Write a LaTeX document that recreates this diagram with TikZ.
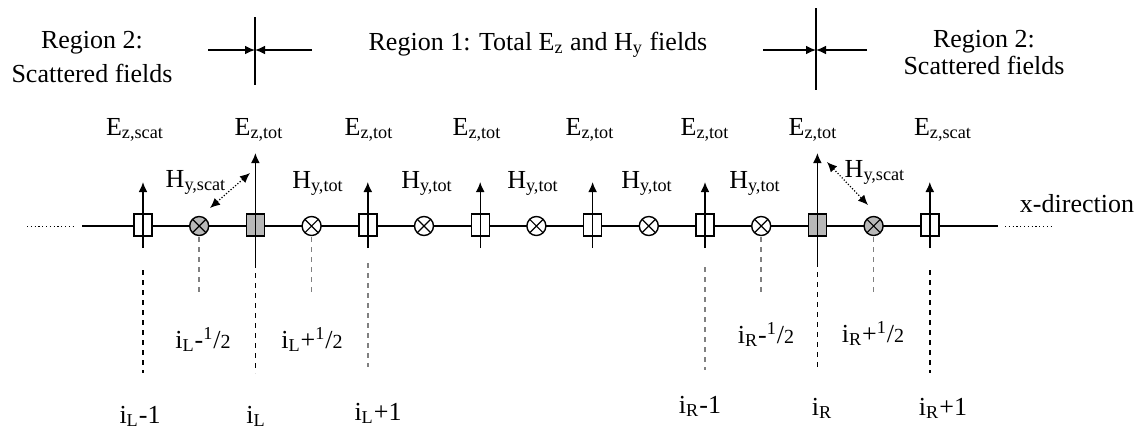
\documentclass[tikz,border=0pt]{standalone}
\usepackage{fontspec}
\setmainfont{Liberation Serif}
\usetikzlibrary{arrows.meta}
\definecolor{shade}{gray}{0.72}
\tikzset{
  ebox/.style={draw, line width=0.7pt, minimum width=9pt, minimum height=11pt, inner sep=0pt, fill=white},
  hcirc/.style={draw, circle, line width=0.7pt, minimum size=9.5pt, inner sep=0pt, fill=white,
    path picture={\draw[line width=0.6pt] (path picture bounding box.north west) -- (path picture bounding box.south east)
      (path picture bounding box.north east) -- (path picture bounding box.south west);}},
  lbl/.style={font=\fontsize{13}{15}\selectfont, inner sep=0pt, anchor=base},
  tip/.style={-{Latex[length=5pt,width=4.4pt]}},
  gridline/.style={dash pattern=on 2.6pt off 2.4pt, line width=0.75pt},
  leader/.style={dash pattern=on 0.6pt off 1.3pt, line width=0.5pt},
  coupling/.style={{Latex[length=5pt,width=4.4pt]}-{Latex[length=5pt,width=4.4pt]}, dash pattern=on 0.6pt off 0.9pt, line width=0.6pt},
}
\begin{document}
\begin{tikzpicture}[x=0.5pt, y=-0.5pt, line width=0.7pt]
    \useasboundingbox (0,0) rectangle (1147,430);

    % Region labels
    \node[lbl] (regLa) at (92,48) {Region 2:};
    \node[lbl] (regLb) at (92,82) {Scattered fields};
    \node[lbl] (regC) at (538,50) {Region 1: Total E\textsubscript{z} and H\textsubscript{y} fields};
    \node[lbl] (regRa) at (984,47) {Region 2:};
    \node[lbl] (regRb) at (984,74) {Scattered fields};

    % Boundary markers
    \coordinate (bLtop) at (255,17);
    \coordinate (bLbot) at (255,85);
    \coordinate (bLm) at (255,50);
    \coordinate (bLa) at (208,50);
    \coordinate (bLb) at (312,50);
    \draw (bLtop) -- (bLbot);
    \draw[tip] (bLa) -- (bLm);
    \draw[tip] (bLb) -- (bLm);
    \coordinate (bRtop) at (816,8);
    \coordinate (bRbot) at (816,90);
    \coordinate (bRm) at (816,50);
    \coordinate (bRa) at (763,50);
    \coordinate (bRb) at (867,50);
    \draw (bRtop) -- (bRbot);
    \draw[tip] (bRa) -- (bRm);
    \draw[tip] (bRb) -- (bRm);

    % x axis
    \coordinate (axL) at (82,226);
    \coordinate (axR) at (998,226);
    \coordinate (dotLa) at (27,226);
    \coordinate (dotLb) at (73,226);
    \coordinate (dotRa) at (1005,226);
    \coordinate (dotRb) at (1052,226);
    \draw (axL) -- (axR);
    \draw[leader] (dotLa) -- (dotLb);
    \draw[leader] (dotRa) -- (dotRb);
    \node[lbl] (xdir) at (1077,212) {x-direction};

    % E_z nodes and H_y nodes
    \foreach \k/\c in {0/white,1/shade,2/white,3/white,4/white,5/white,6/shade,7/white}
        \node[ebox, fill=\c] (e\k) at (143+112.4*\k,225) {};
    \foreach \k/\c in {0/shade,1/white,2/white,3/white,4/white,5/white,6/shade}
        \node[hcirc, fill=\c] (h\k) at (199.2+112.4*\k,226) {};

    % E_z arrows
    \foreach \k in {0,2,3,4,5,7}
        \draw[tip] ([yshift=-11.5pt]e\k.center) -- ([yshift=21.5pt]e\k.center);
    \foreach \k in {1,6}
        \draw[tip] ([yshift=-19pt]e\k.center) -- ([yshift=36pt]e\k.center);

    % Field labels
    \foreach \k/\xl/\t in {0/135/scat,1/259/tot,2/369/tot,3/477/tot,4/590/tot,5/705/tot,6/813/tot,7/943/scat}
        \node[lbl] (le\k) at (\xl,135) {E\textsubscript{z,\t}};
    \foreach \k/\xl/\yl/\t in {0/196/187/scat,1/318/188/tot,2/427/188/tot,3/533/188/tot,4/647/188/tot,5/755/188/tot,6/875/177/scat}
        \node[lbl] (lh\k) at (\xl,\yl) {H\textsubscript{y,\t}};

    % Coupling at the boundaries
    \coordinate (cLa) at (210,208);
    \coordinate (cLb) at (250,173);
    \coordinate (cRa) at (827,162);
    \coordinate (cRb) at (868,205);
    \draw[coupling] (cLa) -- (cLb);
    \draw[coupling] (cRa) -- (cRb);

    % Grid index lines
    \foreach \k/\a/\b/\c in {0/270/373/black,1/263/373/black,2/263/367/gray,5/267/370/gray,6/262/370/black,7/270/373/black}
        \draw[gridline, \c] ([yshift={(225-\a)*0.5pt}]e\k.center) -- ([yshift={(225-\b)*0.5pt}]e\k.center);
    \foreach \k in {0,1,5,6}
        \draw[gridline, gray] ([yshift=-5.5pt]h\k.center) -- ([yshift=-33.5pt]h\k.center);

    % Grid indices
    \node[lbl] (iLm) at (140,423) {i\textsubscript{L}-1};
    \node[lbl] (iL) at (256,423) {i\textsubscript{L}};
    \node[lbl] (iLp) at (378,420) {i\textsubscript{L}+1};
    \node[lbl] (iLmh) at (203,348) {i\textsubscript{L}-\textsuperscript{1}/{\fontsize{10}{12}\selectfont 2}};
    \node[lbl] (iLph) at (312,348) {i\textsubscript{L}+\textsuperscript{1}/{\fontsize{10}{12}\selectfont 2}};
    \node[lbl] (iRm) at (700,413) {i\textsubscript{R}-1};
    \node[lbl] (iR) at (822,415) {i\textsubscript{R}};
    \node[lbl] (iRp) at (943,415) {i\textsubscript{R}+1};
    \node[lbl] (iRmh) at (766,343) {i\textsubscript{R}-\textsuperscript{1}/{\fontsize{10}{12}\selectfont 2}};
    \node[lbl] (iRph) at (873,342) {i\textsubscript{R}+\textsuperscript{1}/{\fontsize{10}{12}\selectfont 2}};
\end{tikzpicture}
\end{document}
